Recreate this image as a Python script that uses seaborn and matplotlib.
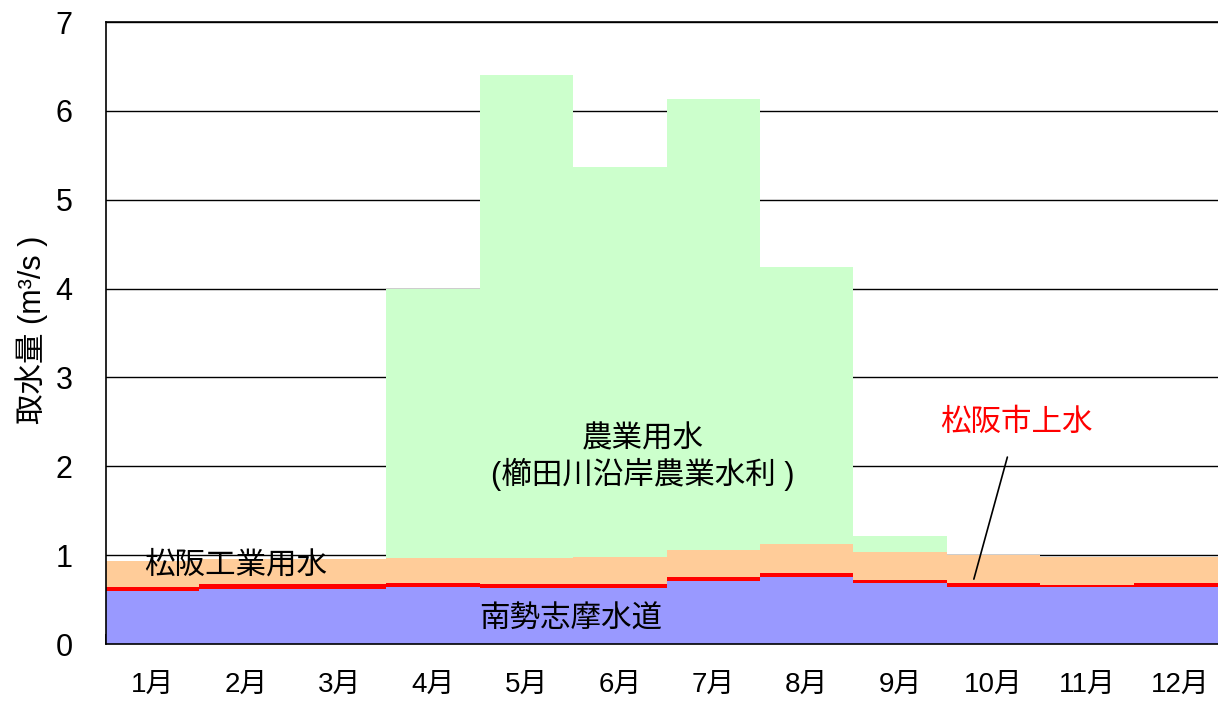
import numpy as np
import pandas as pd
import matplotlib
matplotlib.use("Agg")
import matplotlib.pyplot as plt
import seaborn as sns

# Monthly water intake (m3/s), by user
months = ["1月", "2月", "3月", "4月", "5月", "6月", "7月", "8月", "9月", "10月", "11月", "12月"]
nansei_shima = [0.60, 0.62, 0.62, 0.64, 0.63, 0.63, 0.71, 0.75, 0.69, 0.645, 0.64, 0.645]
matsusaka_city = [0.04, 0.05, 0.05, 0.05, 0.04, 0.04, 0.045, 0.045, 0.025, 0.045, 0.027, 0.045]
matsusaka_industrial = [0.29, 0.285, 0.285, 0.28, 0.298, 0.313, 0.303, 0.33, 0.32, 0.315, 0.316, 0.293]
agriculture = [0.0, 0.0, 0.0, 3.02, 5.44, 4.39, 5.07, 3.115, 0.18, 0.0, 0.0, 0.0]

layer_names = ["南勢志摩水道", "松阪市上水", "松阪工業用水", "農業用水"]
layer_colors = ["#9999FF", "#FF0000", "#FFCC99", "#CCFFCC"]

sns.set_style("white")
plt.rcParams["font.family"] = ["Liberation Sans", "Noto Sans CJK JP", "DejaVu Sans"]
plt.rcParams.update({"text.color": "black", "axes.labelcolor": "black",
                     "xtick.color": "black", "ytick.color": "black"})

df = pd.DataFrame({
    "month": months,
    layer_names[0]: nansei_shima,
    layer_names[1]: matsusaka_city,
    layer_names[2]: matsusaka_industrial,
    layer_names[3]: agriculture,
})
cum = df[layer_names].cumsum(axis=1)

fig = plt.figure(figsize=(12.18, 7.02), dpi=100)
ax = fig.add_axes([106 / 1218, 58 / 702, 1121 / 1218, 622 / 702])

# stacked bars: draw cumulative totals from the top layer down
for name, color in zip(reversed(layer_names), reversed(layer_colors)):
    sns.barplot(x=df["month"], y=cum[name], order=months, color=color,
                saturation=1, width=1.0, linewidth=0, ax=ax)

ax.set_xlim(-0.5, 11.5)
ax.set_ylim(0, 7)
ax.set_yticks(range(0, 8))
ax.yaxis.grid(True, color="black", linewidth=1.0)
ax.set_axisbelow(True)

for side in ["left", "top", "bottom", "right"]:
    ax.spines[side].set_color("black")
    ax.spines[side].set_linewidth(1.2)

ax.set_xticks(range(12))
ax.set_xticklabels(months, fontsize=20)
ax.set_xticks(np.arange(-0.5, 12.0, 1.0), minor=True)
ax.tick_params(axis="x", which="major", bottom=True, length=0, pad=20)
ax.tick_params(axis="x", which="minor", bottom=True, direction="in", length=7,
               width=1.2, color="black")
ax.tick_params(axis="y", length=0, pad=24, labelsize=22)

ax.set_xlabel("")
ax.set_ylabel("取水量 (m³/s )", fontsize=22)
ax.yaxis.set_label_coords(-0.052, 0.505)

# series labels
ax.text(-0.09, 0.88, "松阪工業用水", fontsize=22, ha="left", va="center")
ax.text(4.47, 0.27, "南勢志摩水道", fontsize=22, ha="center", va="center")
ax.text(5.25, 2.10, "農業用水\n(櫛田川沿岸農業水利 )", fontsize=22, ha="center", va="center",
        linespacing=1.15)
ax.annotate("松阪市上水", xy=(8.79, 0.73), xytext=(9.25, 2.49), fontsize=22,
            ha="center", va="center", color="#FF0000",
            arrowprops=dict(arrowstyle="-", color="black", lw=1.2, shrinkA=12, shrinkB=0))

fig.savefig("out.png", dpi=100)
